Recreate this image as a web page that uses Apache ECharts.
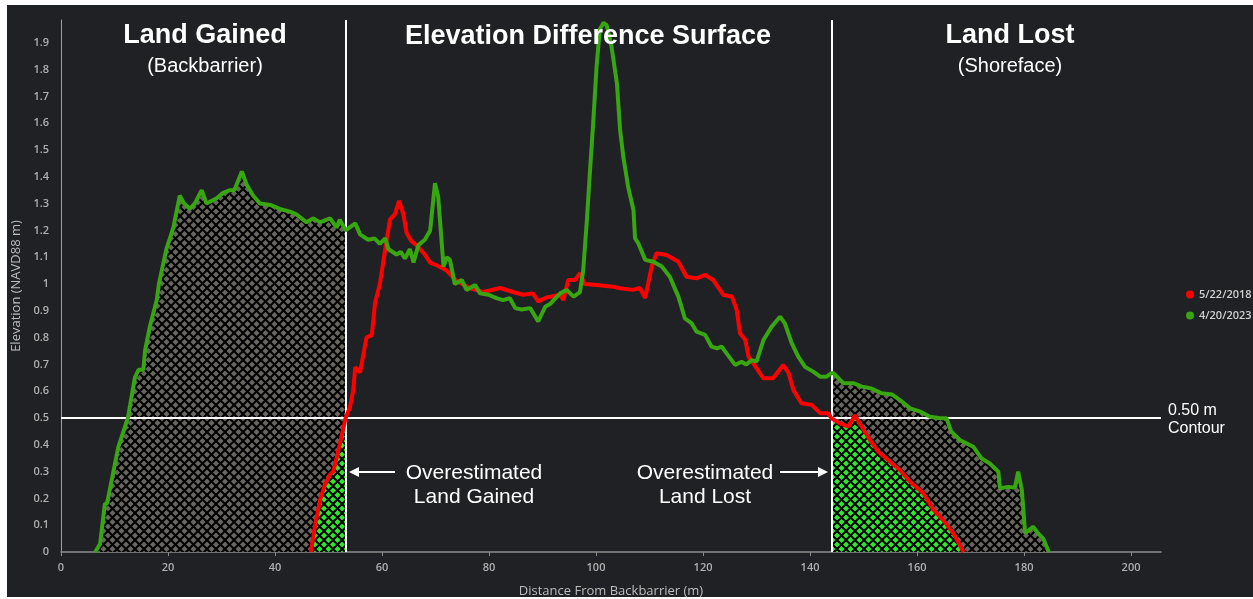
<!DOCTYPE html>
<html>
<head>
<meta charset="utf-8">
<script src="https://cdn.jsdelivr.net/npm/echarts@6/dist/echarts.min.js"></script>
<style>
html, body { margin: 0; padding: 0; background: #fff; }
#bg { position: absolute; left: 7px; top: 5px; width: 1246px; height: 592px; background: #202125; }
#chart { position: absolute; left: 0; top: 0; width: 1253px; height: 599px; }
</style>
</head>
<body>
<div id="bg"></div>
<div id="chart"></div>
<script>
// profile: distance (m) / elevation (NAVD88 m)
var distance2023 = [6.4, 7.3, 8.2, 8.6, 9.2, 10.7, 12.5, 13.8, 14.5, 15.4, 15.7, 16.6, 17.9, 18.3, 19.7,
    21.0, 22.2, 23.0, 24.1, 25.0, 26.3, 27.2, 29.1, 30.3, 31.6, 32.4, 33.8, 34.7, 35.9, 37.2, 39.1,
    40.9, 42.8, 44.0, 45.9, 47.2, 48.4, 50.3, 51.5, 52.1, 53.2, 55.0, 55.9, 57.4, 58.6, 59.6, 60.6,
    61.2, 62.7, 63.5, 64.3, 65.2, 65.9, 66.8, 68.0, 69.0, 69.9, 70.5, 71.5, 72.1, 72.7, 73.6, 74.9,
    75.8, 77.4, 78.3, 79.9, 81.4, 82.6, 83.9, 84.9, 86.1, 87.7, 89.2, 90.5, 91.4, 93.3, 94.5, 95.8,
    97.0, 97.6, 98.3, 98.9, 99.5, 100.1, 100.7, 101.4, 102.0, 102.9, 103.9, 104.5, 105.1, 106.0,
    107.0, 107.3, 107.9, 109.2, 110.7, 112.3, 113.8, 114.8, 115.4, 116.6, 117.9, 118.8, 120.4,
    121.6, 122.6, 123.5, 124.4, 126.0, 127.2, 128.1, 129.1, 130.0, 131.3, 132.8, 134.4, 135.3,
    136.6, 137.8, 139.1, 140.6, 141.9, 143.1, 144.0, 144.4, 146.2, 148.1, 149.7, 151.5, 153.4,
    155.3, 156.8, 158.7, 160.6, 162.4, 164.3, 165.5, 166.4, 168.0, 170.5, 172.0, 173.6, 175.2,
    175.5, 177.1, 178.3, 178.9, 179.6, 180.2, 181.7, 182.6, 183.6, 184.6];
var elevation2023 = [0, 0.03, 0.18, 0.18, 0.24, 0.39, 0.5, 0.65, 0.68, 0.68, 0.75, 0.84, 0.94, 1.0, 1.13,
    1.21, 1.33, 1.30, 1.28, 1.30, 1.35, 1.30, 1.32, 1.34, 1.35, 1.35, 1.42, 1.37, 1.33, 1.30, 1.295,
    1.28, 1.27, 1.26, 1.23, 1.245, 1.23, 1.245, 1.21, 1.24, 1.20, 1.226, 1.185, 1.165, 1.17, 1.15, 1.17,
    1.13, 1.11, 1.12, 1.095, 1.13, 1.08, 1.145, 1.165, 1.20, 1.376, 1.326, 1.065, 1.10, 1.09, 1.0, 1.015,
    0.978, 0.996, 0.965, 0.96, 0.947, 0.94, 0.947, 0.91, 0.905, 0.91, 0.86, 0.915, 0.925, 0.965, 0.978, 0.953,
    0.97, 1.05, 1.24, 1.43, 1.61, 1.81, 1.95, 1.975, 1.965, 1.885, 1.75, 1.575, 1.475, 1.363,
    1.276, 1.17, 1.152, 1.09, 1.083, 1.065, 1.027, 0.98, 0.953, 0.872, 0.853, 0.822, 0.81,
    0.766, 0.76, 0.766, 0.741, 0.698, 0.71, 0.70, 0.716, 0.71, 0.791, 0.84, 0.878, 0.853,
    0.778, 0.729, 0.69, 0.673, 0.654, 0.654, 0.667, 0.667, 0.63, 0.63, 0.617, 0.61, 0.592,
    0.588, 0.567, 0.536, 0.524, 0.505, 0.499, 0.499, 0.449, 0.418, 0.393, 0.35, 0.33, 0.30,
    0.238, 0.243, 0.24, 0.30, 0.23, 0.07, 0.094, 0.07, 0.05, 0];

var distance2018 = [46.7, 47.5, 48.5, 49.3, 50.3, 50.9, 52.1, 53.2, 54.0, 54.6, 55.0, 55.9, 57.1, 58.1,
    58.7, 59.6, 60.6, 61.5, 62.4, 63.2, 64.0, 64.6, 65.5, 66.7, 68.0, 69.0, 70.2, 72.1, 74.0, 76.4,
    78.9, 82.1, 84.5, 86.4, 88.2, 89.2, 90.8, 93.3, 93.9, 94.8, 96.1, 97.0, 97.9, 100.1, 103.2,
    104.5, 106.9, 108.2, 109.2, 110.4, 111.3, 113.2, 115.4, 116.9, 118.8, 120.4, 121.9, 123.8,
    125.4, 126.3, 126.9, 127.9, 128.5, 129.4, 131.3, 133.1, 135.0, 136.0, 136.9, 138.4, 140.3,
    141.9, 143.4, 144.0, 145.6, 147.2, 148.4, 149.3, 151.2, 152.8, 155.3, 156.8, 158.7, 161.2,
    163.1, 164.9, 166.8, 168.7];
var elevation2018 = [0, 0.1, 0.2, 0.25, 0.29, 0.30, 0.40, 0.50, 0.54, 0.60, 0.69, 0.67, 0.80, 0.81,
    0.93, 1.00, 1.13, 1.24, 1.26, 1.31, 1.26, 1.19, 1.16, 1.14, 1.11, 1.08, 1.07, 1.05, 1.01, 0.985,
    0.97, 0.985, 0.97, 0.96, 0.965, 0.935, 0.95, 0.96, 0.94, 1.015, 1.015, 1.04, 1.00, 0.996, 0.99,
    0.984, 0.978, 0.985, 0.948, 1.065, 1.115, 1.108, 1.083, 1.027, 1.021, 1.034, 1.015, 0.959,
    0.953, 0.903, 0.817, 0.791, 0.729, 0.704, 0.648, 0.648, 0.698, 0.667, 0.604, 0.555, 0.549,
    0.518, 0.518, 0.499, 0.48, 0.468, 0.51, 0.48, 0.418, 0.374, 0.331, 0.306, 0.262, 0.219,
    0.157, 0.119, 0.07, 0];

var gainedEdge = 53.2;   // left boundary line (m)
var lostEdge = 144;      // right boundary line (m)
var contourLevel = 0.5;  // 0.50 m contour

function pairs(xs, ys, keep) {
    var out = [];
    for (var i = 0; i < xs.length; i++) {
        if (keep(xs[i])) out.push([xs[i], ys[i]]);
    }
    return out;
}

// cross hatch tile
function hatch(fill) {
    var s = 9;
    var c = document.createElement('canvas');
    c.width = s; c.height = s;
    var g = c.getContext('2d');
    g.fillStyle = fill;
    g.fillRect(0, 0, s, s);
    g.strokeStyle = '#000';
    g.lineWidth = 2;
    for (var k = -1; k <= 1; k++) {
        g.beginPath(); g.moveTo(k * s, 0); g.lineTo(k * s + s, s); g.stroke();
        g.beginPath(); g.moveTo(k * s + s, 0); g.lineTo(k * s, s); g.stroke();
    }
    return {image: c, repeat: 'repeat'};
}

var grayHatch = hatch('#68665f');
var greenHatch = hatch('#2ee82e');

function fill(data, pattern) {
    return {
        type: 'line',
        data: data,
        symbol: 'none',
        showSymbol: false,
        lineStyle: {width: 0},
        areaStyle: {color: pattern, opacity: 1},
        silent: true,
        z: 1
    };
}

var leftGray = fill(pairs(distance2023, elevation2023, function (x) { return x <= gainedEdge; }), grayHatch);
leftGray.markLine = {
    silent: true,
    symbol: ['none', 'none'],
    label: {show: false},
    lineStyle: {color: '#fff', width: 2, type: 'solid'},
    data: [{xAxis: gainedEdge}, {xAxis: lostEdge}, {yAxis: contourLevel}]
};

var font = 'Liberation Sans';
function txt(s, x, y, size, bold, align) {
    return {
        type: 'text', x: x, y: y, z: 100,
        style: {
            text: s, fill: '#fff',
            font: (bold ? 'bold ' : '') + size + 'px "' + font + '"',
            align: align || 'center', verticalAlign: 'middle'
        }
    };
}

var chart = echarts.init(document.getElementById('chart'));
chart.setOption({
    backgroundColor: 'transparent',
    animation: false,
    grid: {left: 61, right: 92, top: 20, bottom: 47, outerBoundsMode: 'none', containLabel: false},
    legend: {
        data: ['5/22/2018', '4/20/2023'],
        orient: 'vertical',
        left: 1181, top: 284,
        icon: 'circle',
        itemWidth: 8, itemHeight: 8, itemGap: 10,
        textStyle: {color: '#d0d0d0', fontSize: 11, fontWeight: 600, fontFamily: 'Open Sans'}
    },
    xAxis: {
        type: 'value', min: 0, max: 205.6, interval: 20,
        name: 'Distance From Backbarrier (m)',
        nameLocation: 'middle', nameGap: 33,
        nameTextStyle: {color: '#bdbdbd', fontSize: 13, fontFamily: 'Open Sans'},
        axisLine: {lineStyle: {color: '#8c8c8c', width: 1.5}},
        axisTick: {show: true, length: 4, lineStyle: {color: '#8c8c8c'}},
        splitLine: {show: false},
        axisLabel: {color: '#b0b0b0', fontSize: 11, fontWeight: 600, fontFamily: 'Open Sans', margin: 10, showMaxLabel: false}
    },
    yAxis: {
        type: 'value', min: 0, max: 1.985, interval: 0.1,
        name: 'Elevation (NAVD88 m)',
        nameLocation: 'middle', nameGap: 38,
        nameTextStyle: {color: '#bdbdbd', fontSize: 13, fontFamily: 'Open Sans'},
        axisLine: {show: true, lineStyle: {color: '#a0a0a0', width: 1}},
        axisTick: {show: false},
        splitLine: {show: false},
        axisLabel: {color: '#b0b0b0', fontSize: 11, fontWeight: 600, fontFamily: 'Open Sans', margin: 12, showMaxLabel: false}
    },
    series: [
        leftGray,
        fill(pairs(distance2018, elevation2018, function (x) { return x <= gainedEdge; }), greenHatch),
        fill(pairs(distance2023, elevation2023, function (x) { return x >= lostEdge; }), grayHatch),
        fill(pairs(distance2018, elevation2018, function (x) { return x >= lostEdge; }), greenHatch),
        {
            name: '5/22/2018', type: 'line', z: 9,
            data: pairs(distance2018, elevation2018, function () { return true; }),
            symbol: 'circle', showSymbol: false,
            itemStyle: {color: '#ff0000'},
            lineStyle: {color: '#ff0000', width: 4}
        },
        {
            name: '4/20/2023', type: 'line', z: 10,
            data: pairs(distance2023, elevation2023, function () { return true; }),
            symbol: 'circle', showSymbol: false,
            itemStyle: {color: '#38a611'},
            lineStyle: {color: '#38a611', width: 4}
        }
    ],
    graphic: [
        txt('Land Gained', 205, 36, 27, true),
        txt('(Backbarrier)', 205, 66, 20, false),
        txt('Elevation Difference Surface', 588, 37, 27, true),
        txt('Land Lost', 1010, 36, 27, true),
        txt('(Shoreface)', 1010, 66, 20, false),
        txt('Overestimated', 474, 473, 21, false),
        txt('Land Gained', 474, 497, 21, false),
        txt('Overestimated', 705, 473, 21, false),
        txt('Land Lost', 705, 497, 21, false),
        txt('0.50 m', 1168, 411, 16, false, 'left'),
        txt('Contour', 1168, 429, 16, false, 'left'),
        {type: 'line', z: 100, shape: {x1: 395, y1: 472, x2: 357, y2: 472}, style: {stroke: '#fff', lineWidth: 2}},
        {type: 'polygon', z: 100, shape: {points: [[349, 472], [359, 467], [359, 477]]}, style: {fill: '#fff'}},
        {type: 'line', z: 100, shape: {x1: 780, y1: 472, x2: 820, y2: 472}, style: {stroke: '#fff', lineWidth: 2}},
        {type: 'polygon', z: 100, shape: {points: [[828, 472], [818, 467], [818, 477]]}, style: {fill: '#fff'}}
    ]
});
</script>
</body>
</html>
